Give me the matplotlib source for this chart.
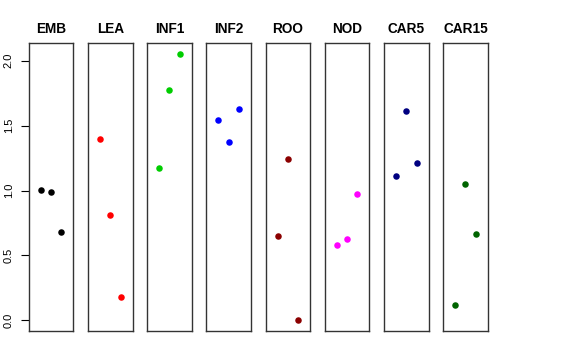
import numpy as np
import matplotlib.pyplot as plt

plt.rcParams['font.family'] = ['Liberation Sans', 'DejaVu Sans']

groups = ["EMB", "LEA", "INF1", "INF2", "ROO", "NOD", "CAR5", "CAR15"]
colors = ["black", "red", "#00CD00", "blue", "#8B0000", "magenta", "#000080", "#006400"]
xpos = [1, 2, 3]
emb = [1.005, 0.992, 0.682]
lea = [1.395, 0.815, 0.177]
inf1 = [1.172, 1.775, 2.054]
inf2 = [1.544, 1.374, 1.628]
roo = [0.649, 1.246, 0.003]
nod = [0.577, 0.623, 0.972]
car5 = [1.113, 1.616, 1.211]
car15 = [0.115, 1.049, 0.665]
values = [emb, lea, inf1, inf2, roo, nod, car5, car15]

W, H = 576, 360
fig = plt.figure(figsize=(W / 100, H / 100), dpi=100)

left0 = 28.7
step = 59.2
pw = 44.7
top, bottom = 43, 331

ymin, ymax = 0.0, 2.054
ext = 0.04 * (ymax - ymin)

for i, (g, c, v) in enumerate(zip(groups, colors, values)):
    x0 = left0 + i * step
    ax = fig.add_axes([x0 / W, (H - bottom) / H, pw / W, (bottom - top) / H])
    ax.scatter(xpos, v, s=22, color=c, zorder=3, linewidths=0)
    ax.set_xlim(-0.16, 4.16)
    ax.set_ylim(ymin - ext, ymax + ext)
    ax.set_xticks([])
    for sp in ax.spines.values():
        sp.set_linewidth(1.0)
        sp.set_color("#333333")
    ax.set_title(g, fontsize=9.8, fontweight="bold", pad=7)
    if i == 0:
        ax.set_yticks([0.0, 0.5, 1.0, 1.5, 2.0])
        ax.set_yticklabels(["0.0", "0.5", "1.0", "1.5", "2.0"], rotation=90, va="center")
        ax.tick_params(axis="y", length=5.8, width=0.8, pad=5, labelsize=8)
    else:
        ax.set_yticks([])

fig.savefig("out.png", dpi=100)
